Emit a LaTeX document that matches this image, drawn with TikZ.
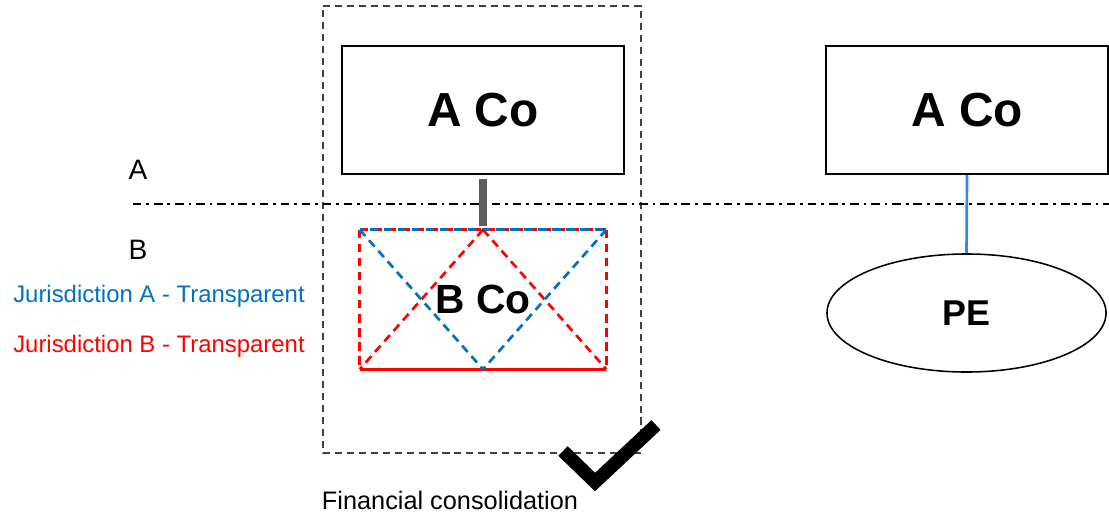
\documentclass[tikz,border=0pt]{standalone}
\usepackage{fontspec}
\setmainfont{Liberation Sans}
\usepackage{xcolor}
\usetikzlibrary{shapes.geometric}

\definecolor{azul}{HTML}{0070C0}
\definecolor{rojo}{HTML}{FF0000}
\definecolor{linea}{HTML}{3C82F0}
\definecolor{gris}{HTML}{404040}

\begin{document}
\begin{tikzpicture}[
    x=0.025cm, y=-0.025cm,
    caja/.style={draw, line width=1.4pt, minimum width=7.05cm, minimum height=3.2cm,
                 inner sep=0pt, font=\fontsize{34}{40}\selectfont\bfseries},
    grupo/.style={draw=gris, line width=0.9pt, dash pattern=on 5pt off 3.5pt,
                  minimum width=7.95cm, minimum height=11.175cm, inner sep=0pt},
    trazo/.style={line width=1.9pt, dash pattern=on 6pt off 4pt},
    etiqueta/.style={font=\fontsize{20}{24}\selectfont},
    juris/.style={anchor=west, inner sep=0pt, font=\fontsize{17}{20}\selectfont}
  ]
  \useasboundingbox (0,0) rectangle (1109,514);

  % --- Consolidacion ---
  \node[grupo] (consol) at (482,229.5) {};
  \node[caja] (acoa) at (483,110) {A Co};
  \node[minimum width=6.15cm, minimum height=3.475cm, inner sep=0pt,
        font=\fontsize{29}{34}\selectfont\bfseries] (bco) at (483,299.5) {B Co};

  % --- Lado derecho ---
  \node[caja] (acob) at (967,110) {A Co};
  \node[draw, ellipse, line width=1.1pt, minimum width=6.975cm, minimum height=2.95cm,
        inner sep=0pt, font=\fontsize{25.5}{30}\selectfont\bfseries] (pe) at (966.5,313) {PE};

  % --- Frontera entre jurisdicciones ---
  \coordinate (fronizq) at (133,204);
  \coordinate (fronder) at (1109,204);
  \draw[line width=1.6pt, dash pattern=on 6pt off 3.5pt on 2pt off 3.5pt] (fronizq) -- (fronder);
  \node[etiqueta] (juria) at (138,170) {A};
  \node[etiqueta] (jurib) at (138,250) {B};
  \node[juris, text=azul] (transa) at (13,296) {Jurisdiction A - Transparent};
  \node[juris, text=rojo] (transb) at (13,346) {Jurisdiction B - Transparent};

  % --- Caja B Co transparente ---
  \draw[trazo, rojo] (bco.north west) -- (bco.south west);
  \draw[trazo, rojo] (bco.north east) -- (bco.south east);
  \draw[trazo, rojo] (bco.north west) -- (bco.north east);
  \draw[line width=1.9pt, rojo] (bco.south west) -- (bco.south east);
  \draw[trazo, azul, dash phase=3pt] (bco.north west) -- (bco.north east);
  \draw[trazo, rojo] (bco.north) -- (bco.south west);
  \draw[trazo, rojo] (bco.north) -- (bco.south east);
  \draw[trazo, azul] (bco.north west) -- (bco.south);
  \draw[trazo, azul] (bco.north east) -- (bco.south);

  % --- Conectores ---
  \draw[line width=5pt, color=gris!85, shorten <=2.5pt, shorten >=2.5pt] (acoa.south) -- (bco.north);
  \draw[line width=1.9pt, linea] (acob.south) -- (pe.north);

  % --- Visto bueno ---
  \draw[line width=9.5pt, line join=miter] (563,451) -- (595,482) -- (656,425);
  \node[font=\fontsize{18}{22}\selectfont] (finan) at (450,500) {Financial consolidation};
\end{tikzpicture}
\end{document}
